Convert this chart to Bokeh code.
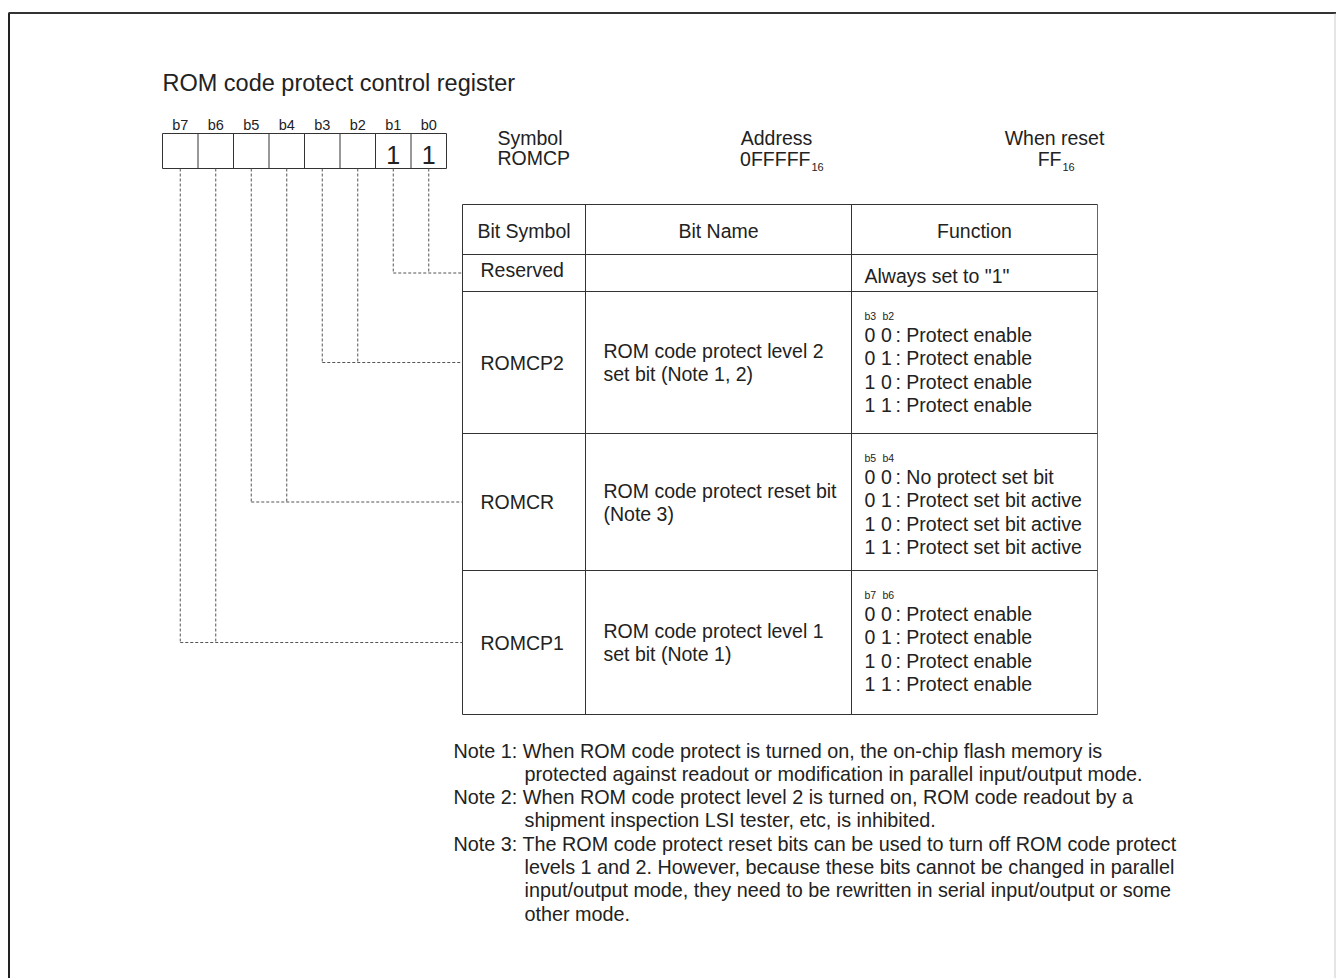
from bokeh.plotting import figure
from bokeh.models import Range1d
from bokeh.core.properties import value
from bokeh.embed import file_html
from bokeh.resources import INLINE

# ---------------- data ----------------
title = "ROM code protect control register"
bit_labels = ["b7", "b6", "b5", "b4", "b3", "b2", "b1", "b0"]
reset_bits = ["", "", "", "", "", "", "1", "1"]
symbol_hdr = ["Symbol", "ROMCP"]
address_hdr = ["Address", "0FFFFF", "16"]
reset_hdr = ["When reset", "FF", "16"]
col_headers = ["Bit Symbol", "Bit Name", "Function"]
bit_symbols = ["Reserved", "ROMCP2", "ROMCR", "ROMCP1"]
bit_groups = [[6, 7], [4, 5], [2, 3], [0, 1]]   # register cell indices
bit_names = [
    [],
    ["ROM code protect level 2", "set bit (Note 1, 2)"],
    ["ROM code protect reset bit", "(Note 3)"],
    ["ROM code protect level 1", "set bit (Note 1)"],
]
reserved_function = 'Always set to "1"'
func_heads = [None, ["b3", "b2"], ["b5", "b4"], ["b7", "b6"]]
func_codes = ["0 0", "0 1", "1 0", "1 1"]
func_texts = [
    None,
    ["Protect enable", "Protect enable", "Protect enable", "Protect enable"],
    ["No protect set bit", "Protect set bit active", "Protect set bit active", "Protect set bit active"],
    ["Protect enable", "Protect enable", "Protect enable", "Protect enable"],
]
notes = [
    ("Note 1: ", ["When ROM code protect is turned on, the on-chip flash memory is",
                  "protected against readout or modification in parallel input/output mode."]),
    ("Note 2: ", ["When ROM code protect level 2 is turned on, ROM code readout by a",
                  "shipment inspection LSI tester, etc, is inhibited."]),
    ("Note 3: ", ["The ROM code protect reset bits can be used to turn off ROM code protect",
                  "levels 1 and 2. However, because these bits cannot be changed in parallel",
                  "input/output mode, they need to be rewritten in serial input/output or some",
                  "other mode."]),
]

# ---------------- layout ----------------
W, H = 1336, 978
FONT = value("Liberation Sans")
TXT = "#222222"
LINE = "#333333"
FS = "19.5px"

p = figure(width=W, height=H, output_backend="svg", toolbar_location=None,
           x_range=Range1d(0, W), y_range=Range1d(H, 0), min_border=0)
p.axis.visible = False
p.grid.visible = False
p.outline_line_color = None
p.background_fill_color = "white"
p.border_fill_color = "white"

def txt(x, y, s, size, align="left", color=TXT, baseline="middle"):
    p.text(x=[x], y=[y], text=[s], text_font=FONT, text_font_size=size,
           text_align=align, text_baseline=baseline, text_color=color)

def seg(x0, y0, x1, y1, color=LINE, width=1, dash="solid"):
    p.segment(x0=[x0], y0=[y0], x1=[x1], y1=[y1], line_color=color,
              line_width=width, line_dash=dash)

# outer frame
seg(8.5, 12.5, 8.5, H, color="#222222", width=2)
seg(8, 12.5, W, 12.5, color="#333333", width=2)
seg(W - 1.5, 13, W - 1.5, H, color="#cccccc", width=1)

# title
txt(162, 82, title, "23.5px")

# register
RX0, RW, RY0, RY1 = 162, 35.5, 133, 168
for i, lab in enumerate(bit_labels):
    cx = RX0 + RW * (i + 0.5)
    txt(cx, 124, lab, "14.5px", align="center")
    if reset_bits[i]:
        txt(cx, 154, reset_bits[i], "25px", align="center")
for i in range(len(bit_labels) + 1):
    seg(RX0 + RW * i, RY0, RX0 + RW * i, RY1)
seg(RX0, RY0, RX0 + RW * 8, RY0)
seg(RX0, RY1, RX0 + RW * 8, RY1)

# headers
txt(497, 137, symbol_hdr[0], FS)
txt(497, 157, symbol_hdr[1], FS)
txt(776, 137, address_hdr[0], FS, align="center")
txt(810, 158, address_hdr[1], FS, align="right")
txt(811, 166, address_hdr[2], "11px")
txt(1054, 137, reset_hdr[0], FS, align="center")
txt(1061, 158, reset_hdr[1], FS, align="right")
txt(1062, 166, reset_hdr[2], "11px")

# table
cols = [462, 585, 851, 1097]
rows = [204, 254, 291, 433, 570, 714]
for x in cols:
    seg(x, rows[0], x, rows[-1], color=LINE if x != cols[-1] else "#666666")
for y in rows:
    seg(cols[0], y, cols[-1], y)
for j, h in enumerate(col_headers):
    txt((cols[j] + cols[j + 1]) / 2, 230, h, FS, align="center")

for r, sym in enumerate(bit_symbols):
    top, bot = rows[r + 1], rows[r + 2]
    cy = (top + bot) / 2
    if r == 0:
        txt(480, cy - 3, sym, FS)
        txt(864, cy + 3, reserved_function, FS)
    else:
        txt(480, cy, sym, FS)
        names = bit_names[r]
        for k, nm in enumerate(names):
            txt(603, cy + (k - (len(names) - 1) / 2) * 23, nm, FS)
        hb = func_heads[r]
        txt(864, top + 24, hb[0], "10.5px")
        txt(882, top + 24, hb[1], "10.5px")
        for k, (code, ft) in enumerate(zip(func_codes, func_texts[r])):
            yy = top + 43 + k * 23.5
            d1, d2 = code.split(" ")
            txt(864, yy, d1, FS)
            txt(880.5, yy, d2, FS)
            txt(895, yy, ": " + ft, FS)
    # connectors
    idx = bit_groups[r]
    xs = [RX0 + RW * (i + 0.5) for i in idx]
    for x in xs:
        seg(x, RY1, x, cy, color="#555555", dash="3 2")
    seg(min(xs), cy, cols[0], cy, color="#555555", dash="3 2")

# notes
ny = 750
for head, lines in notes:
    txt(453, ny, head + lines[0], "19.8px")
    ny += 23.3
    for ln in lines[1:]:
        txt(524, ny, ln, "19.8px")
        ny += 23.3

open("out.html", "w").write(file_html(p, INLINE))
